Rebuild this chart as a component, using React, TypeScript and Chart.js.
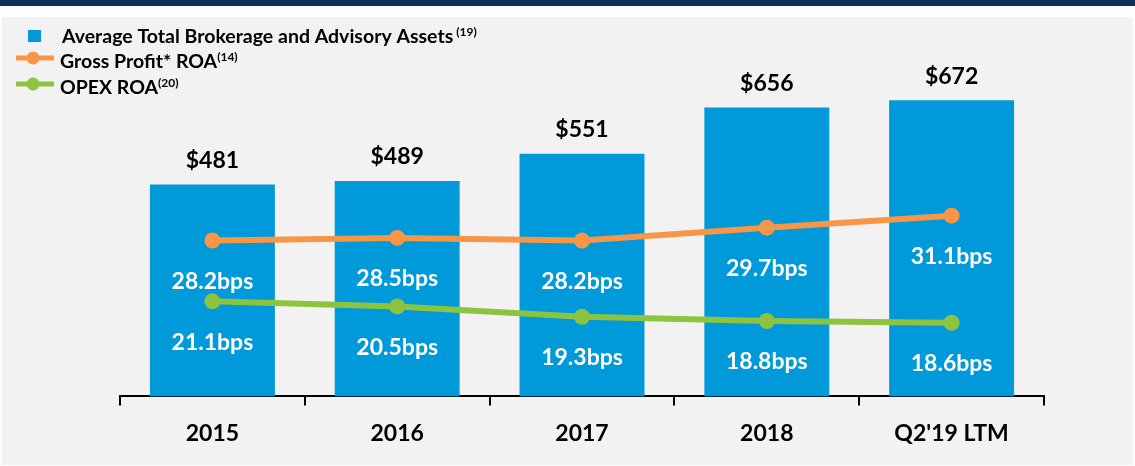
import React, { useEffect, useRef } from 'react';
import { Chart, registerables } from 'chart.js';

Chart.register(...registerables);

const categories = ['2015', '2016', '2017', '2018', "Q2'19 LTM"];
const assets = [481, 489, 551, 656, 672];
const grossProfitRoa = [28.2, 28.5, 28.2, 29.7, 31.1];
const opexRoa = [21.1, 20.5, 19.3, 18.8, 18.6];

const legendItems = [
  { kind: 'bar', text: 'Average Total Brokerage and Advisory Assets', sup: ' (19)' },
  { kind: 'line', text: 'Gross Profit* ROA', sup: '(14)' },
  { kind: 'line', text: 'OPEX ROA', sup: '(20)' },
];

const FONT = 'Lato, "Open Sans", sans-serif';
const BLUE = '#0099DA';
const ORANGE = '#F79646';
const GREEN = '#8DC43F';
const NAVY = '#112E5C';
const BG = '#F2F2F2';

const backgroundPlugin = {
  id: 'bgPlugin',
  beforeDraw(chart: any) {
    const { ctx, width, height } = chart;
    ctx.save();
    ctx.fillStyle = '#FFFFFF';
    ctx.fillRect(0, 0, width, height);
    ctx.fillStyle = NAVY;
    ctx.fillRect(0, 0, width, 6);
    ctx.fillStyle = BG;
    ctx.fillRect(2, 17, width - 4, height - 18);
    ctx.restore();
  },
};

const legendPlugin = {
  id: 'customLegend',
  afterDraw(chart: any) {
    const { ctx } = chart;
    ctx.save();
    const colors = [BLUE, ORANGE, GREEN];
    const baselines = [43, 68, 94];
    legendItems.forEach((item, i) => {
      const base = baselines[i];
      const color = colors[i];
      if (item.kind === 'bar') {
        ctx.fillStyle = color;
        ctx.fillRect(28, base - 13, 13, 12);
      } else {
        const ly = base - 10;
        ctx.strokeStyle = color;
        ctx.lineWidth = 5;
        ctx.beginPath();
        ctx.moveTo(16, ly);
        ctx.lineTo(54, ly);
        ctx.stroke();
        ctx.fillStyle = color;
        ctx.beginPath();
        ctx.arc(33, ly, 6.5, 0, Math.PI * 2);
        ctx.fill();
      }
      const tx = item.kind === 'bar' ? 62 : 60;
      ctx.fillStyle = '#000';
      ctx.textBaseline = 'alphabetic';
      ctx.textAlign = 'left';
      ctx.font = `bold 19.5px ${FONT}`;
      ctx.fillText(item.text, tx, base);
      const w = ctx.measureText(item.text).width;
      ctx.font = `bold 12px ${FONT}`;
      ctx.fillText(item.sup, tx + w, base - 7);
    });
    ctx.restore();
  },
};

const labelPlugin = {
  id: 'valueLabels',
  afterDatasetsDraw(chart: any) {
    const { ctx } = chart;
    ctx.save();
    ctx.textAlign = 'center';
    ctx.textBaseline = 'middle';
    chart.data.datasets.forEach((ds: any, di: number) => {
      const meta = chart.getDatasetMeta(di);
      meta.data.forEach((el: any, i: number) => {
        const v = ds.data[i];
        if (ds.type === 'bar') {
          ctx.fillStyle = '#000';
          ctx.font = `bold 23px ${FONT}`;
          ctx.fillText('$' + v, el.x, el.y - 24);
        } else {
          ctx.fillStyle = '#FFF';
          ctx.font = `bold 23px ${FONT}`;
          ctx.fillText(v.toFixed(1) + 'bps', el.x, el.y + 41);
        }
      });
    });
    ctx.restore();
  },
};

export default function App() {
  const ref = useRef<HTMLCanvasElement | null>(null);
  useEffect(() => {
    if (!ref.current) return;
    const chart = new Chart(ref.current, {
      type: 'bar',
      data: {
        labels: categories,
        datasets: [
          {
            type: 'line',
            label: 'Gross Profit* ROA',
            data: grossProfitRoa,
            yAxisID: 'y2',
            borderColor: ORANGE,
            backgroundColor: ORANGE,
            borderWidth: 6,
            pointRadius: 8,
            pointBackgroundColor: ORANGE,
            pointBorderWidth: 0,
            tension: 0,
            order: 1,
          } as any,
          {
            type: 'line',
            label: 'OPEX ROA',
            data: opexRoa,
            yAxisID: 'y2',
            borderColor: GREEN,
            backgroundColor: GREEN,
            borderWidth: 6,
            pointRadius: 8,
            pointBackgroundColor: GREEN,
            pointBorderWidth: 0,
            tension: 0,
            order: 1,
          } as any,
          {
            type: 'bar',
            label: 'Average Total Brokerage and Advisory Assets',
            data: assets,
            yAxisID: 'y',
            backgroundColor: BLUE,
            borderWidth: 0,
            categoryPercentage: 0.676,
            barPercentage: 1.0,
            order: 2,
          } as any,
        ],
      },
      options: {
        responsive: false,
        animation: false,
        devicePixelRatio: 1,
        layout: { padding: { top: 88, left: 120, right: 91, bottom: 5 } },
        plugins: {
          legend: { display: false },
          tooltip: { enabled: false },
          title: { display: false },
        },
        scales: {
          x: {
            offset: true,
            grid: {
              display: true,
              drawOnChartArea: false,
              drawTicks: true,
              tickLength: 9,
              color: '#000',
              lineWidth: 2,
              offset: true,
            },
            border: { display: true, color: '#000', width: 2 },
            ticks: {
              color: '#000',
              font: { family: FONT, size: 23, weight: 'bold' },
              padding: 14,
              maxRotation: 0,
              autoSkip: false,
            },
          },
          y: { display: false, min: 0, max: 700 },
          y2: { display: false, min: 10, max: 46, position: 'right' },
        },
      } as any,
      plugins: [backgroundPlugin, labelPlugin, legendPlugin],
    });
    return () => chart.destroy();
  }, []);
  return (
    <div style={{ position: 'fixed', left: 0, top: 0, width: 1135, height: 466 }}>
      <canvas ref={ref} width={1135} height={466} style={{ width: 1135, height: 466, display: 'block' }} />
    </div>
  );
}
